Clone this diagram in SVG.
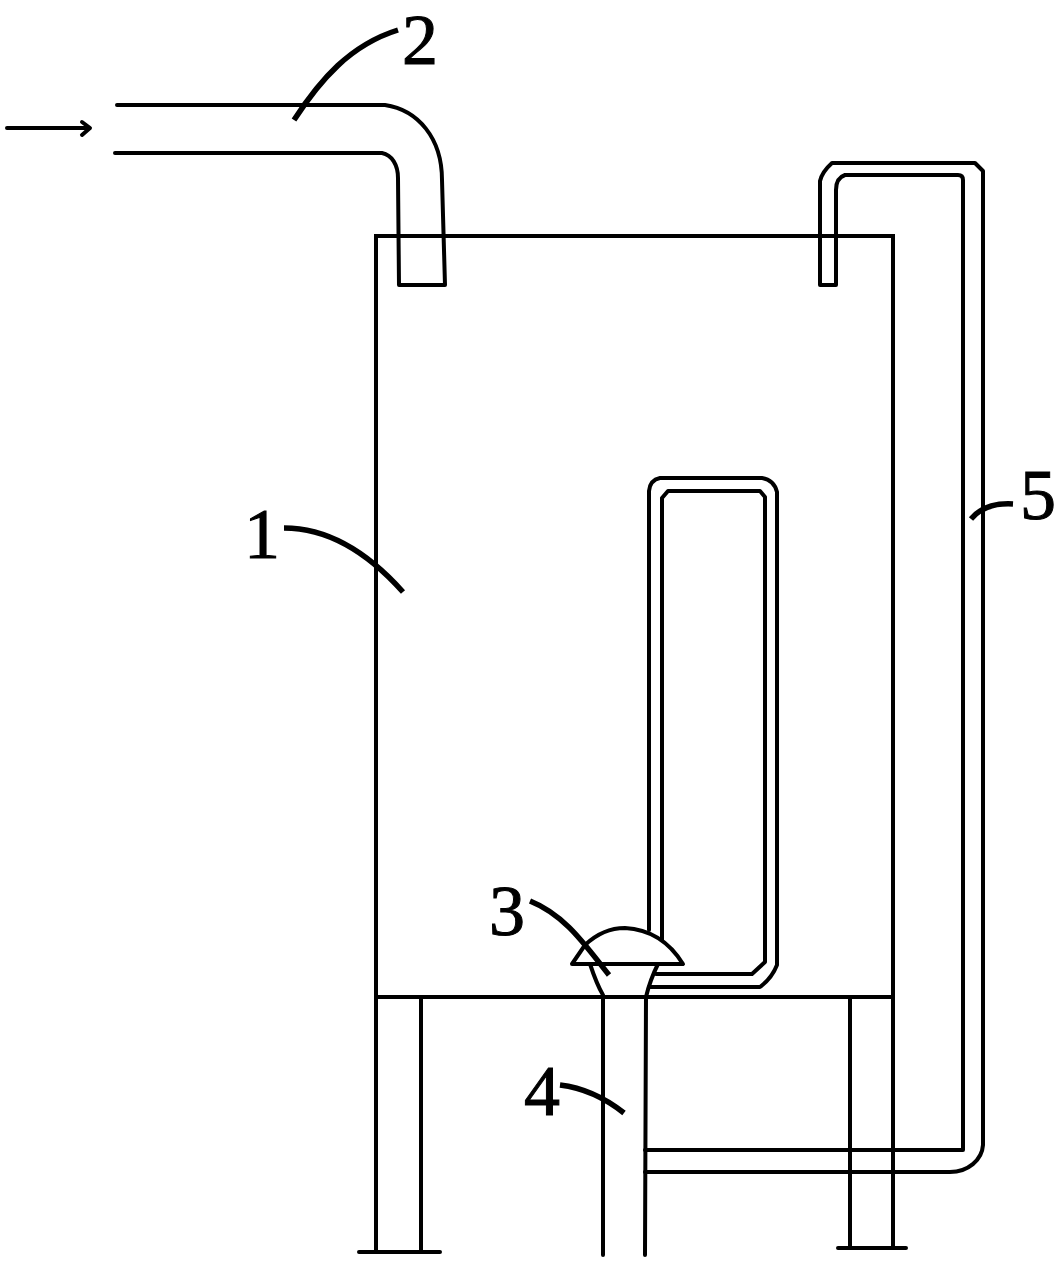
<svg xmlns="http://www.w3.org/2000/svg" width="1059" height="1261" viewBox="0 0 1059 1261">
<style>
.l{fill:none;stroke:#000;stroke-width:4;stroke-linecap:round;stroke-linejoin:round}
.b{fill:none;stroke:#000;stroke-width:4;stroke-linecap:butt;stroke-linejoin:miter}
.t{fill:none;stroke:#000;stroke-width:5.5;stroke-linecap:butt}
.n{font-family:"Liberation Serif","Times New Roman",serif;font-size:72px;fill:#000;stroke:#000;stroke-width:1;text-anchor:middle}
</style>
<rect width="1059" height="1261" fill="#fff"/>
<g id="tank">
<path class="b" d="M376 997V236H893V997"/>
<path class="b" d="M376 997H893"/>
</g>
<g id="legs">
<path class="b" d="M376 997V1252M421 997V1252M850 997V1248M893 997V1248"/>
<path class="l" d="M359 1252H440M838 1248H906"/>
</g>
<g id="inlet-pipe">
<path class="l" d="M117 105H385C418 110 442 138 442 180L445 285H399L398 178C398 165 392 155 382 153H115"/>
<path class="l" d="M7 128H89M82 122L90 128L82 135"/>
</g>
<g id="outlet-pipe">
<path class="l" d="M645 1150H963V180Q963 175 958 175H845Q836 178 836 190V285H820V181Q822 172 832 163H975L983 171V1145C982 1160 968 1172 950 1172H645"/>
</g>
<g id="inner-loop">
<path class="l" d="M649 930V491Q650 480 660 478H762Q774 480 777 492V965Q772 978 760 987H649M662 940V498L668 491H760L765 497V962L752 974H656"/>
</g>
<g id="valve">
<path d="M572 964L585 945Q603 928 625 928Q662 930 683 964Z" fill="#fff" stroke="#000" stroke-width="4" stroke-linejoin="round"/>
<path class="l" d="M590 964Q597 985 603 995V1255M658 964Q650 980 646 997L645 1255"/>
</g>
<g id="labels">
<text class="n" x="420" y="64">2</text>
<text class="n" x="262" y="558">1</text>
<text class="n" x="507" y="935">3</text>
<text class="n" x="542" y="1115">4</text>
<text class="n" x="1038" y="519">5</text>
</g>
<g id="connectors">
<path class="t" d="M294 120C320 80 350 45 398 30"/>
<path class="t" d="M284 528C330 528 370 555 403 592"/>
<path class="t" d="M530 901C565 915 585 945 609 975"/>
<path class="t" d="M560 1085C585 1088 605 1098 624 1113"/>
<path class="t" d="M971 519C980 508 995 503 1013 504"/>
</g>
</svg>
